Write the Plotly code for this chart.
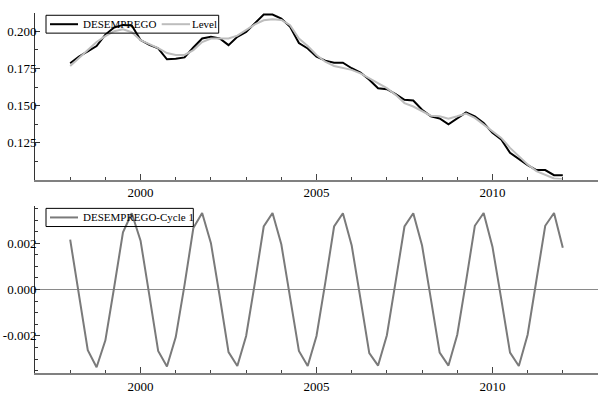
import plotly.graph_objects as go
from plotly.subplots import make_subplots

# Quarterly dates 1998Q1 .. 2012Q1
dates = [y + (q - 1) / 4 for y in range(1998, 2013) for q in range(1, 5)][:57]

desemprego = [0.1785, 0.1830, 0.1865, 0.1900, 0.1977, 0.2025, 0.2042, 0.2038,
              0.1940, 0.1908, 0.1884, 0.1811, 0.1815, 0.1824, 0.1890, 0.1951,
              0.1962, 0.1951, 0.1906, 0.1962, 0.1995, 0.2051, 0.2112, 0.2112,
              0.2085, 0.2029, 0.1920, 0.1884, 0.1828, 0.1802, 0.1788, 0.1788,
              0.1751, 0.1722, 0.1673, 0.1617, 0.1610, 0.1577, 0.1539, 0.1534,
              0.1472, 0.1428, 0.1414, 0.1374, 0.1417, 0.1454, 0.1428, 0.1383,
              0.1317, 0.1272, 0.1183, 0.1139, 0.1100, 0.1067, 0.1067, 0.1033,
              0.1033]

level = [0.1766, 0.1820, 0.1873, 0.1927, 0.1967, 0.2000, 0.2013, 0.1993,
         0.1940, 0.1913, 0.1886, 0.1853, 0.1840, 0.1840, 0.1873, 0.1927,
         0.1951, 0.1951, 0.1951, 0.1970, 0.2005, 0.2045, 0.2073, 0.2080,
         0.2075, 0.2040, 0.1951, 0.1900, 0.1840, 0.1795, 0.1766, 0.1751,
         0.1740, 0.1717, 0.1684, 0.1650, 0.1617, 0.1572, 0.1517, 0.1494,
         0.1461, 0.1432, 0.1428, 0.1412, 0.1428, 0.1446, 0.1417, 0.1372,
         0.1327, 0.1283, 0.1216, 0.1160, 0.1105, 0.1060, 0.1038, 0.1011,
         0.1005]

cycle = [0.00215, -0.00020, -0.00262, -0.00335, -0.00219, 0.00010, 0.00247, 0.00329,
         0.00211, -0.00025, -0.00265, -0.00332, -0.00205, 0.00020, 0.00265, 0.00330,
         0.00200, -0.00030, -0.00270, -0.00330, -0.00200, 0.00030, 0.00272, 0.00330,
         0.00195, -0.00035, -0.00265, -0.00330, -0.00200, 0.00030, 0.00272, 0.00329,
         0.00190, -0.00040, -0.00274, -0.00328, -0.00197, 0.00035, 0.00272, 0.00329,
         0.00190, -0.00040, -0.00272, -0.00328, -0.00195, 0.00035, 0.00275, 0.00330,
         0.00185, -0.00040, -0.00272, -0.00330, -0.00195, 0.00040, 0.00275, 0.00330,
         0.00180]

top_ticks = [0.125, 0.150, 0.175, 0.200]
top_labels = ["0.125", "0.150", "0.175", "0.200"]
bot_ticks = [-0.002, 0.0, 0.002]
bot_labels = ["-0.002", "0.000", "0.002"]

FONT = "Liberation Serif, Times New Roman, Times, serif"

W, H = 598, 394
ML, MR, MT, MB = 35, 0, 13, 18
PW, PH = W - ML - MR, H - MT - MB

def px(x):
    return (x - ML) / PW

def py(y):
    return (H - MB - y) / PH

colors = {"DESEMPREGO": "#000000", "Level": "#bdbdbd", "DESEMPREGO-Cycle 1": "#7a7a7a"}

fig = make_subplots(rows=2, cols=1, vertical_spacing=0.0)

fig.add_trace(go.Scatter(x=dates, y=desemprego, mode="lines", name="DESEMPREGO",
                         line=dict(color=colors["DESEMPREGO"], width=2)), row=1, col=1)
fig.add_trace(go.Scatter(x=dates, y=level, mode="lines", name="Level",
                         line=dict(color=colors["Level"], width=2)), row=1, col=1)
fig.add_trace(go.Scatter(x=dates, y=cycle, mode="lines", name="DESEMPREGO-Cycle 1",
                         line=dict(color=colors["DESEMPREGO-Cycle 1"], width=2)), row=2, col=1)

xcommon = dict(range=[1997, 2013], tickmode="linear", tick0=2000, dtick=5,
               ticks="inside", ticklen=6, tickcolor="#444", tickwidth=1,
               minor=dict(dtick=1, tick0=2000, ticks="inside", ticklen=3, tickcolor="#444"),
               showline=True, linecolor="#808080", linewidth=2, showgrid=False,
               zeroline=False, tickfont=dict(family=FONT, size=13, color="#000"),
               fixedrange=True)

fig.update_xaxes(**xcommon, row=1, col=1)
fig.update_xaxes(**xcommon, row=2, col=1)

fig.update_yaxes(range=[0.1003, 0.2122], tickmode="array", tickvals=top_ticks, ticktext=top_labels,
                 ticks="inside", ticklen=5, tickcolor="#333",
                 minor=dict(tickmode="linear", tick0=0.1125, dtick=0.025, ticks="inside", ticklen=3, tickcolor="#333"),
                 showline=True, linecolor="#333", linewidth=1, showgrid=False, zeroline=False,
                 tickfont=dict(family=FONT, size=13, color="#000"), ticklabelstandoff=-5,
                 domain=[py(181), py(MT)], row=1, col=1)
fig.update_yaxes(range=[-0.0036, 0.0036], tickmode="array", tickvals=bot_ticks, ticktext=bot_labels,
                 ticks="inside", ticklen=5, tickcolor="#333",
                 minor=dict(tickmode="linear", tick0=0, dtick=0.0005, ticks="inside", ticklen=3, tickcolor="#333"),
                 showline=True, linecolor="#333", linewidth=1, showgrid=False,
                 zeroline=True, zerolinecolor="#8a8a8a", zerolinewidth=1,
                 tickfont=dict(family=FONT, size=13, color="#000"), ticklabelstandoff=-5,
                 domain=[0.0, py(207.7)], row=2, col=1)

# Hand-drawn legends (box, line samples, labels), in pixel layout converted to paper coords
shapes = []
annotations = []

def legend_box(x0, x1, y0, y1, items):
    shapes.append(dict(type="rect", xref="paper", yref="paper",
                       x0=px(x0), x1=px(x1), y0=py(y1), y1=py(y0),
                       line=dict(color="#000", width=1), fillcolor="rgba(0,0,0,0)", layer="above"))
    yc = (y0 + y1) / 2
    for name, sx0, sx1, tx in items:
        shapes.append(dict(type="line", xref="paper", yref="paper",
                           x0=px(sx0), x1=px(sx1), y0=py(yc), y1=py(yc),
                           line=dict(color=colors[name], width=2), layer="above"))
        annotations.append(dict(xref="paper", yref="paper", x=px(tx), y=py(yc),
                                text=name, showarrow=False, xanchor="left", yanchor="middle",
                                borderpad=0,
                                font=dict(family=FONT, size=11, color="#000")))

legend_box(46, 218.7, 15.3, 33.3, [("DESEMPREGO", 50, 78, 81.5), ("Level", 161.7, 190, 191)])
legend_box(46, 193.3, 210, 228.3, [("DESEMPREGO-Cycle 1", 50, 78, 81.5)])

fig.update_layout(
    width=W, height=H,
    margin=dict(l=ML, r=MR, t=MT, b=MB),
    paper_bgcolor="white", plot_bgcolor="white",
    showlegend=False,
    shapes=shapes, annotations=annotations,
)

fig.write_html("out.html")
